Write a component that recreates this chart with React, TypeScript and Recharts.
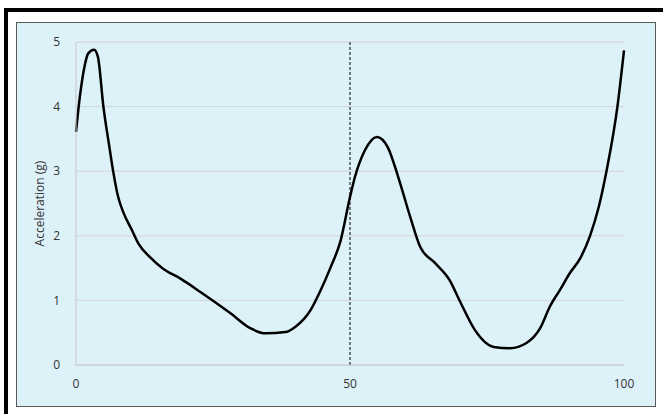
import React from 'react';
import { LineChart, Line, XAxis, YAxis, CartesianGrid, ReferenceLine } from 'recharts';

// percent of cycle
const cycle = [
  0, 0.7, 1.65, 2.2, 3.3, 4.0, 5.0, 6.1, 6.8, 7.7, 8.6, 10.2, 11.4, 13.5, 15.9, 19, 22.7, 28.2, 31.8, 34.6,
  38.2, 40, 42.8, 44.6, 46.4, 48.3, 50, 50.9, 52.7, 54.9, 56.9, 58.8, 61, 62.8, 65.5, 68.2, 70.1, 72.8, 76.2,
  79.2, 82.2, 84.7, 86.5, 88.3, 90.1, 92, 93.8, 95.4, 96.8, 98.8, 100,
];
// acceleration (g)
const accel = [
  3.61, 4.15, 4.66, 4.82, 4.88, 4.77, 4.0, 3.37, 2.99, 2.6, 2.37, 2.09, 1.88, 1.67, 1.49, 1.34, 1.13, 0.8, 0.57, 0.49,
  0.51, 0.59, 0.85, 1.15, 1.5, 1.93, 2.6, 2.91, 3.32, 3.53, 3.37, 2.91, 2.29, 1.83, 1.58, 1.31, 0.98, 0.54, 0.28,
  0.26, 0.34, 0.57, 0.91, 1.16, 1.42, 1.65, 2.0, 2.45, 3.0, 4.0, 4.87,
];
const xTicks = [0, 50, 100];
const yTicks = [0, 1, 2, 3, 4, 5];

const data = cycle.map((x, i) => ({ x, y: accel[i] }));

const tickStyle = { fill: '#333', fontSize: 12, fontFamily: 'Open Sans, sans-serif' };

export default function App() {
  return (
    <div style={{ position: 'absolute', left: 0, top: 0, width: 663, height: 414, background: '#fff', overflow: 'hidden' }}>
      <div style={{ position: 'absolute', left: 4, top: 8, width: 700, height: 500, border: '4px solid #000' }} />
      <div
        style={{
          position: 'absolute',
          left: 16,
          top: 22,
          width: 638,
          height: 383,
          background: '#ddf1f9',
          border: '1px solid #595959',
        }}
      />
      <div style={{ position: 'absolute', left: 0, top: 0 }}>
        <LineChart width={663} height={414} data={data} margin={{ top: 42, right: 39, bottom: 19, left: 4 }}>
          <CartesianGrid horizontal vertical={false} stroke="#d4d4d4" />
          <XAxis
            dataKey="x"
            type="number"
            domain={[0, 100]}
            ticks={xTicks}
            tickLine={false}
            axisLine={{ stroke: '#c8c8c8' }}
            tickMargin={8}
            tick={tickStyle}
            height={30}
          />
          <YAxis
            type="number"
            domain={[0, 5]}
            ticks={yTicks}
            tickLine={false}
            axisLine={{ stroke: '#c8c8c8' }}
            tickMargin={10}
            tick={tickStyle}
            width={72}
            label={{
              value: 'Acceleration (g)',
              angle: -90,
              position: 'center',
              style: { fill: '#333', fontSize: 12, fontFamily: 'Open Sans, sans-serif' },
            }}
          />
          <ReferenceLine x={50} stroke="#000" strokeDasharray="3 2" strokeWidth={1} />
          <Line
            type="monotone"
            dataKey="y"
            stroke="#000"
            strokeWidth={2.5}
            dot={false}
            isAnimationActive={false}
          />
        </LineChart>
      </div>
    </div>
  );
}
